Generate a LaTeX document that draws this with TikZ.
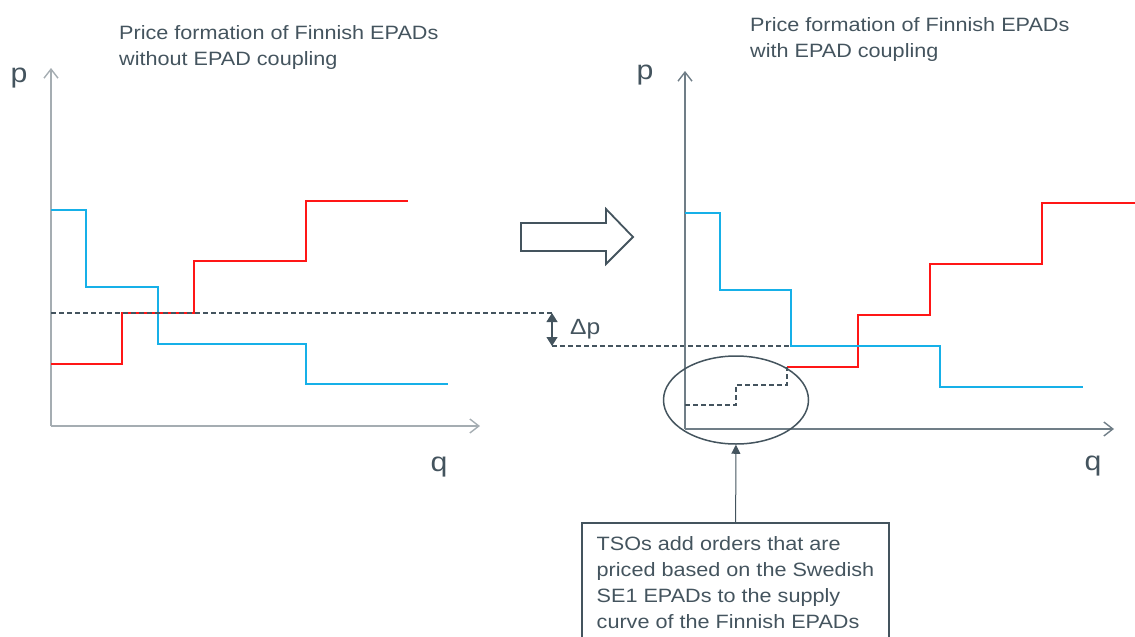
\documentclass[tikz,border=0pt]{standalone}
\usepackage{fontspec}
\setmainfont{Liberation Sans}[FakeStretch=1.12]
\usetikzlibrary{arrows.meta}
\usetikzlibrary{shapes.geometric}
\definecolor{slate}{RGB}{68,84,94}
\definecolor{axleft}{RGB}{165,173,178}
\definecolor{axright}{RGB}{112,126,135}
\definecolor{bidblue}{RGB}{22,176,232}
\definecolor{askred}{RGB}{255,22,22}
\tikzset{
  title/.style={anchor=north west, inner sep=0pt, align=left, text=slate,
    font=\fontsize{19.3}{26}\selectfont},
  axlabel/.style={anchor=base, inner sep=0pt, text=slate,
    font=\fontsize{27}{30}\selectfont},
  axis/.style={line width=1.4pt, -{Straight Barb[length=9pt,width=14pt]}},
  demand/.style={line width=2pt, bidblue},
  supply/.style={line width=2pt, askred},
  level/.style={line width=1.5pt, slate, dash pattern=on 5pt off 3pt},
}

\begin{document}
\begin{tikzpicture}[x=1pt,y=-1pt]
    \useasboundingbox (0,0) rectangle (1135,637);
    \clip (0,0) rectangle (1135,637);
    \node[title] (titleL) at (119,25) {Price formation of Finnish EPADs\\without EPAD coupling};
    \node[title] (titleR) at (750,17) {Price formation of Finnish EPADs\\with EPAD coupling};

    \draw [axis, axleft] (51,426) -- (51,68);
    \draw [axis, axleft] (51,426) -- (480,426);
    \node[axlabel] (pL) at (19,82) {p};
    \node[axlabel] (qL) at (439,471) {q};
    \draw [supply] (51,364) -| (122,313) -| (194,261) -| (306,201) -- (408,201);
    \draw [demand] (51,210) -| (86,287) -| (158,344) -| (306,384) -- (448,384);

    \coordinate (dpTop) at (552,313);
    \coordinate (dpBot) at (552,346);
    \draw [level] (51,313) -- (dpTop);
    \draw [level] (dpBot) -- (858,346);
    \draw [slate, line width=1.2pt, {Triangle[length=9pt,width=11pt]}-{Triangle[length=9pt,width=11pt]}] (dpTop) -- (dpBot);
    \node[anchor=base west, inner sep=0pt, text=slate, font=\fontsize{22}{26}\selectfont] (dpLabel) at (570,334) {Δp};

    \draw [slate, line width=1.8pt, fill=white] (521,223) -- (606,223) -- (606,209) -- (633,237)
        -- (606,264) -- (606,251) -- (521,251) -- cycle;

    \draw [axis, axright] (685,429) -- (685,71);
    \draw [axis, axright] (685,429) -- (1114,429);
    \node[axlabel] (pR) at (645,79) {p};
    \node[axlabel] (qR) at (1093,470) {q};
    \draw [supply] (787,367) -| (858,315) -| (930,264) -| (1042,203) -- (1135,203);
    \draw [demand] (685,213) -| (720,290) -| (791,346) -| (940,387) -- (1083,387);
    \draw [level, line width=2pt] (685,405) -| (736,385) -| (787,367);

    \node[draw=slate, line width=1.5pt, ellipse, minimum width=145pt, minimum height=88pt, inner sep=0pt] (oval) at (736,400) {};
    \node[draw=slate, line width=1.5pt, anchor=north, minimum width=307pt, inner xsep=14pt, inner ysep=14pt,
        align=left, text=slate, font=\fontsize{19.3}{26}\selectfont] (tsobox) at (735.5,522)
        {TSOs add orders that are\\priced based on the Swedish\\SE1 EPADs to the supply\\curve of the Finnish EPADs};
    \draw [slate, line width=1pt, -{Triangle[length=9pt,width=9pt]}] (tsobox) -- (oval);
\end{tikzpicture}
\end{document}
